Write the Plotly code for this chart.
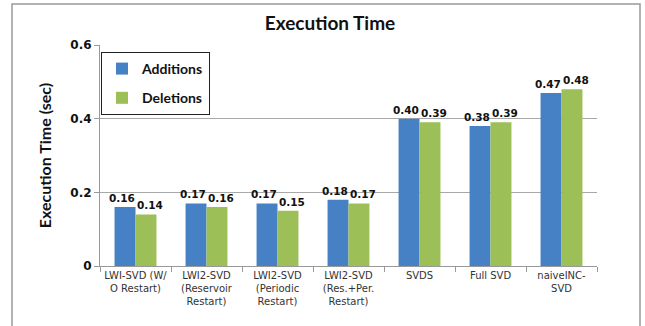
import plotly.graph_objects as go

categories = ["LWI-SVD (W/<br>O Restart)", "LWI2-SVD<br>(Reservoir<br>Restart)",
              "LWI2-SVD<br>(Periodic<br>Restart)", "LWI2-SVD<br>(Res.+Per.<br>Restart)",
              "SVDS", "Full SVD", "naiveINC-<br>SVD"]
additions = [0.16, 0.17, 0.17, 0.18, 0.40, 0.38, 0.47]
deletions = [0.14, 0.16, 0.15, 0.17, 0.39, 0.39, 0.48]
add_labels = ["0.16", "0.17", "0.17", "0.18", "0.40", "0.38", "0.47"]
del_labels = ["0.14", "0.16", "0.15", "0.17", "0.39", "0.39", "0.48"]
y_ticks = [0, 0.2, 0.4, 0.6]
y_ticktext = ["0", "0.2", "0.4", "0.6"]

L, R, T, B = 100, 48, 45, 60
W, H = 645, 326
pw, ph = W - L - R, H - T - B
BARGAP = 0.41
half = (1 - BARGAP) / 4  # offset of each bar centre from category centre

fig = go.Figure()
fig.add_trace(go.Bar(name="<b>Additions</b>", x=categories, y=additions,
                     marker=dict(color="#4581c4", line=dict(width=0)), legendgroup="a"))
fig.add_trace(go.Bar(name="<b>Deletions</b>", x=categories, y=deletions,
                     marker=dict(color="#9cbf57", line=dict(width=0)), legendgroup="d"))

lab_font = dict(family="DejaVu Sans", size=10.5, color="#111", weight="bold")
for i, (v, t) in enumerate(zip(additions, add_labels)):
    fig.add_annotation(x=i - half, y=v, text=t, showarrow=False, xref="x", yref="y",
                       yanchor="bottom", xanchor="center", xshift=-3, yshift=1,
                       font=lab_font)
for i, (v, t) in enumerate(zip(deletions, del_labels)):
    fig.add_annotation(x=i + half, y=v, text=t, showarrow=False, xref="x", yref="y",
                       yanchor="bottom", xanchor="center", xshift=4, yshift=1,
                       font=lab_font)

fig.update_layout(
    width=W, height=H, margin=dict(l=L, r=R, t=T, b=B, autoexpand=False),
    paper_bgcolor="white", plot_bgcolor="white",
    barmode="group", bargap=BARGAP, bargroupgap=0,
    title=dict(text="<b>Execution Time</b>", x=(330) / W, xanchor="center",
               y=1 - 23 / H, yanchor="middle",
               font=dict(family="Lato", size=19, color="#111")),
    legend=dict(x=0.002, y=(266 - 52) / ph, xanchor="left", yanchor="top",
                bordercolor="#222", borderwidth=1, bgcolor="white",
                font=dict(family="Lato", size=14, color="#111"),
                tracegroupgap=8, itemwidth=30),
    showlegend=True,
)
fig.update_xaxes(showline=True, linecolor="#999", linewidth=1, tickangle=0,
                 automargin=False,
                 ticks="outside", tickson="boundaries", ticklen=5, tickcolor="#999",
                 tickfont=dict(family="DejaVu Sans", size=10, color="#333"))
fig.update_yaxes(range=[0, 0.6], tickvals=y_ticks, ticktext=y_ticktext,
                 showgrid=True, gridcolor="#a8a8a8", gridwidth=1,
                 showline=True, linecolor="#999", linewidth=1,
                 ticks="outside", ticklen=5, tickcolor="#999",
                 tickfont=dict(family="DejaVu Sans", size=12, color="#111", weight="bold"),
                 title=dict(text="<b>Execution Time (sec)</b>", standoff=14,
                            font=dict(family="Lato", size=16, color="#111")),
                 zeroline=False)

# outer chart border
fig.add_shape(type="rect", xref="paper", yref="paper",
              x0=(12 - L) / pw, x1=(640 - L) / pw,
              y0=(266 - 340) / ph, y1=(266 - 4) / ph,
              line=dict(color="#999", width=1.5), fillcolor="rgba(0,0,0,0)", layer="below")

fig.write_html("out.html")
